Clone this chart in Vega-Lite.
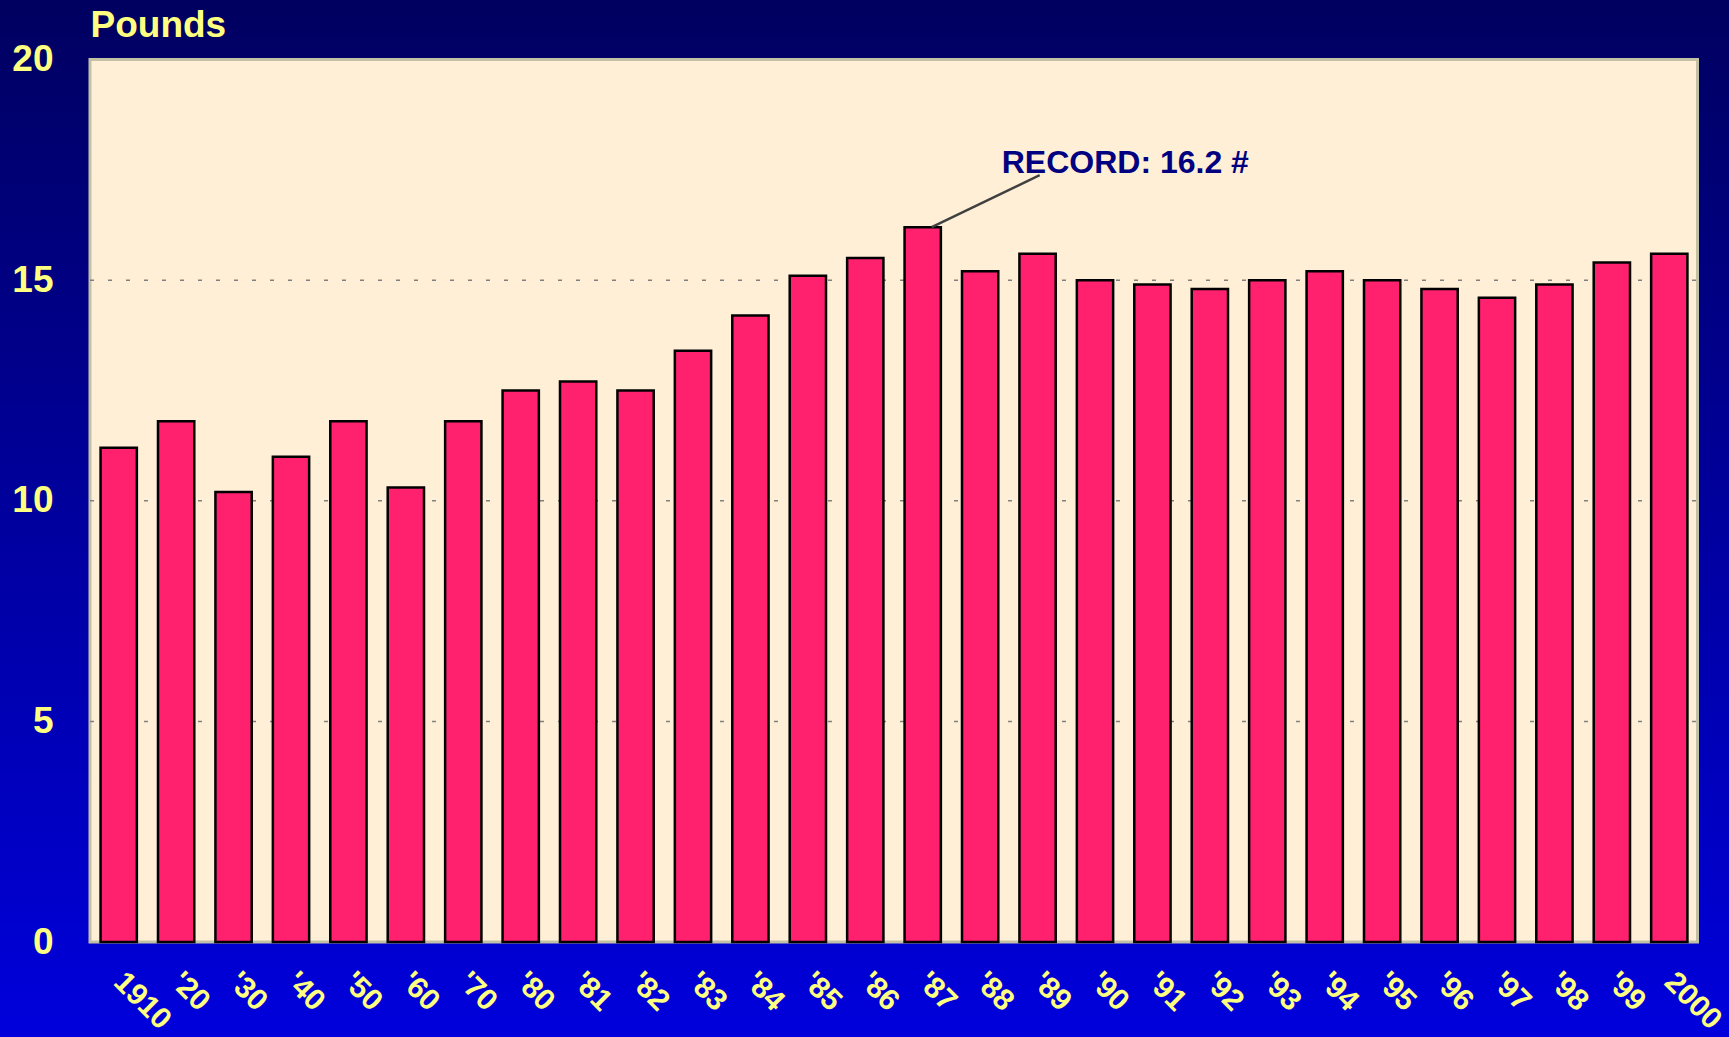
{
  "$schema": "https://vega.github.io/schema/vega-lite/v6.json",
  "width": 1729,
  "height": 1037,
  "padding": 0,
  "autosize": {"type": "none"},
  "background": "#00009E",
  "config": {"view": {"stroke": null}},
  "resolve": {"scale": {"x": "independent"}, "axis": {"x": "independent", "y": "independent"}},
  "layer": [
    {
      "data": {"values": [{}]},
      "mark": {
        "type": "rect",
        "fill": {
          "gradient": "linear",
          "x1": 0, "y1": 0, "x2": 0, "y2": 1,
          "stops": [
            {"offset": 0, "color": "#000060"},
            {"offset": 1, "color": "#0000DC"}
          ]
        }
      },
      "encoding": {}
    },
    {
      "resolve": {"axis": {"x": "independent", "y": "independent"}},
      "layer": [
        {
          "data": {"values": [{"lo": 0, "hi": 20}]},
          "mark": {"type": "rect", "fill": "#FFEFD6", "stroke": "#C3C1A5", "strokeWidth": 3},
          "encoding": {
            "x": {"datum": 0, "type": "quantitative", "scale": {"domain": [0, 1], "range": [90, 1697.5], "nice": false, "zero": false}, "axis": null},
            "x2": {"datum": 1},
            "y": {"field": "lo", "type": "quantitative", "scale": {"domain": [0, 20], "range": [942, 59.5], "nice": false}, "axis": null},
            "y2": {"field": "hi"}
          }
        },
        {
          "data": {"values": [{"v": 5}, {"v": 10}, {"v": 15}]},
          "mark": {"type": "rule", "stroke": "#808080", "strokeWidth": 1.5, "strokeDash": [4, 14]},
          "encoding": {
            "x": {"datum": 0, "type": "quantitative", "axis": null},
            "x2": {"datum": 1},
            "y": {"field": "v", "type": "quantitative", "axis": null}
          }
        }
      ]
    },
    {
      "resolve": {"axis": {"x": "independent", "y": "independent"}},
      "layer": [
        {
          "data": {
            "values": [
              {"year": "1910", "lbs": 11.2},
              {"year": "'20", "lbs": 11.8},
              {"year": "'30", "lbs": 10.2},
              {"year": "'40", "lbs": 11.0},
              {"year": "'50", "lbs": 11.8},
              {"year": "'60", "lbs": 10.3},
              {"year": "'70", "lbs": 11.8},
              {"year": "'80", "lbs": 12.5},
              {"year": "'81", "lbs": 12.7},
              {"year": "'82", "lbs": 12.5},
              {"year": "'83", "lbs": 13.4},
              {"year": "'84", "lbs": 14.2},
              {"year": "'85", "lbs": 15.1},
              {"year": "'86", "lbs": 15.5},
              {"year": "'87", "lbs": 16.2},
              {"year": "'88", "lbs": 15.2},
              {"year": "'89", "lbs": 15.6},
              {"year": "'90", "lbs": 15.0},
              {"year": "'91", "lbs": 14.9},
              {"year": "'92", "lbs": 14.8},
              {"year": "'93", "lbs": 15.0},
              {"year": "'94", "lbs": 15.2},
              {"year": "'95", "lbs": 15.0},
              {"year": "'96", "lbs": 14.8},
              {"year": "'97", "lbs": 14.6},
              {"year": "'98", "lbs": 14.9},
              {"year": "'99", "lbs": 15.4},
              {"year": "2000", "lbs": 15.6}
            ]
          },
          "mark": {"type": "bar", "fill": "#FF206E", "stroke": "#000000", "strokeWidth": 2.5},
          "encoding": {
            "x": {
              "field": "year", "type": "nominal", "sort": null,
              "scale": {"range": [90, 1698], "paddingInner": 0.368, "paddingOuter": 0.184, "round": false},
              "axis": {
                "title": null, "offset": -95, "domain": false, "ticks": false, "grid": false,
                "labelAngle": 45, "labelAlign": "left", "labelBaseline": "middle", "labelPadding": 35,
                "labelFont": "Liberation Sans", "labelFontWeight": "bold", "labelFontSize": 30,
                "labelColor": "#FFFF80", "labelOverlap": false, "labelBound": false, "labelFlush": false, "zindex": 2
              }
            },
            "y": {
              "field": "lbs", "type": "quantitative",
              "scale": {"domain": [0, 20], "range": [942, 59.5], "nice": false},
              "axis": {
                "title": "Pounds", "titleAngle": 0, "titleX": 0, "titleY": 36, "titleAlign": "left", "titleBaseline": "alphabetic",
                "titleFont": "Liberation Sans", "titleFontWeight": "bold", "titleFontSize": 37, "titleColor": "#FFFF80",
                "offset": -90, "values": [0, 5, 10, 15, 20], "domain": false, "ticks": false, "grid": false,
                "labelPadding": 37, "labelFont": "Liberation Sans", "labelFontWeight": "bold", "labelFontSize": 37,
                "labelColor": "#FFFF80", "labelBaseline": "middle", "labelOverlap": false, "labelBound": false, "labelFlush": false, "zindex": 2
              }
            }
          }
        },
        {
          "data": {"values": [{}]},
          "mark": {"type": "rule", "stroke": "#404040", "strokeWidth": 2.5, "xOffset": 9, "x2Offset": 117, "y2Offset": -52},
          "encoding": {
            "x": {"datum": "'87", "type": "nominal", "axis": null},
            "x2": {"datum": "'87", "bandPosition": 0.5},
            "y": {"datum": 16.2, "type": "quantitative", "axis": null},
            "y2": {"datum": 16.2}
          }
        },
        {
          "data": {"values": [{}]},
          "mark": {
            "type": "text", "text": "RECORD: 16.2 #", "align": "left", "baseline": "alphabetic",
            "dx": 79, "dy": -54, "font": "Liberation Sans", "fontWeight": "bold", "fontSize": 32, "fill": "#000080"
          },
          "encoding": {
            "x": {"datum": "'87", "type": "nominal", "axis": null},
            "y": {"datum": 16.2, "type": "quantitative", "axis": null}
          }
        }
      ]
    }
  ]
}
